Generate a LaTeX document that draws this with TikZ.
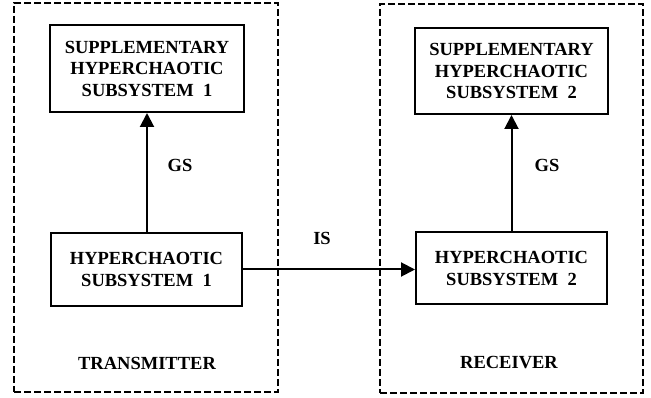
\documentclass[tikz,border=0pt]{standalone}
\usepackage{fontspec}
\setmainfont{Liberation Serif}
\usetikzlibrary{arrows.meta}
\begin{document}
\begin{tikzpicture}[x=1pt,y=-1pt,
  every node/.style={font=\bfseries\fontsize{18.5}{21.5}\selectfont},
  block/.style={draw,line width=2pt,align=center,inner sep=0pt},
  frame/.style={draw,line width=1.8pt,dash pattern=on 7pt off 3pt,inner sep=0pt},
  lbl/.style={},
  conn/.style={line width=2pt},
  arr/.style={conn,-{Triangle[length=14pt,width=14pt]}}]
\useasboundingbox (0,0) rectangle (651,398);
\node[frame,minimum width=264pt,minimum height=389pt] (tx) at (146,197.5) {};
\node[frame,minimum width=263pt,minimum height=389pt] (rx) at (511.5,198.5) {};
\node[block,minimum width=194pt,minimum height=87pt] (sup1) at (147,68.5) {SUPPLEMENTARY\\HYPERCHAOTIC\\SUBSYSTEM\ \ 1};
\node[block,minimum width=193pt,minimum height=86pt] (sup2) at (511.5,71) {SUPPLEMENTARY\\HYPERCHAOTIC\\SUBSYSTEM\ \ 2};
\node[block,minimum width=191pt,minimum height=73pt] (hc1) at (146.5,269.5) {HYPERCHAOTIC\\SUBSYSTEM\ \ 1};
\node[block,minimum width=191pt,minimum height=72pt] (hc2) at (511.5,268.5) {HYPERCHAOTIC\\SUBSYSTEM\ \ 2};
\node[lbl] (gs1) at (180,165) {GS};
\node[lbl] (gs2) at (547,165) {GS};
\node[lbl] (is) at (322,238) {IS};
\node[lbl] (txl) at (147,363) {TRANSMITTER};
\node[lbl] (rxl) at (509,363) {RECEIVER};
\draw[arr] (hc1.north -| sup1.south) -- (sup1.south);
\draw[arr] (hc2.north) -- (sup2.south -| hc2.north);
\draw[arr] (hc1.east) -- (hc1.east -| hc2.west);
\end{tikzpicture}
\end{document}
